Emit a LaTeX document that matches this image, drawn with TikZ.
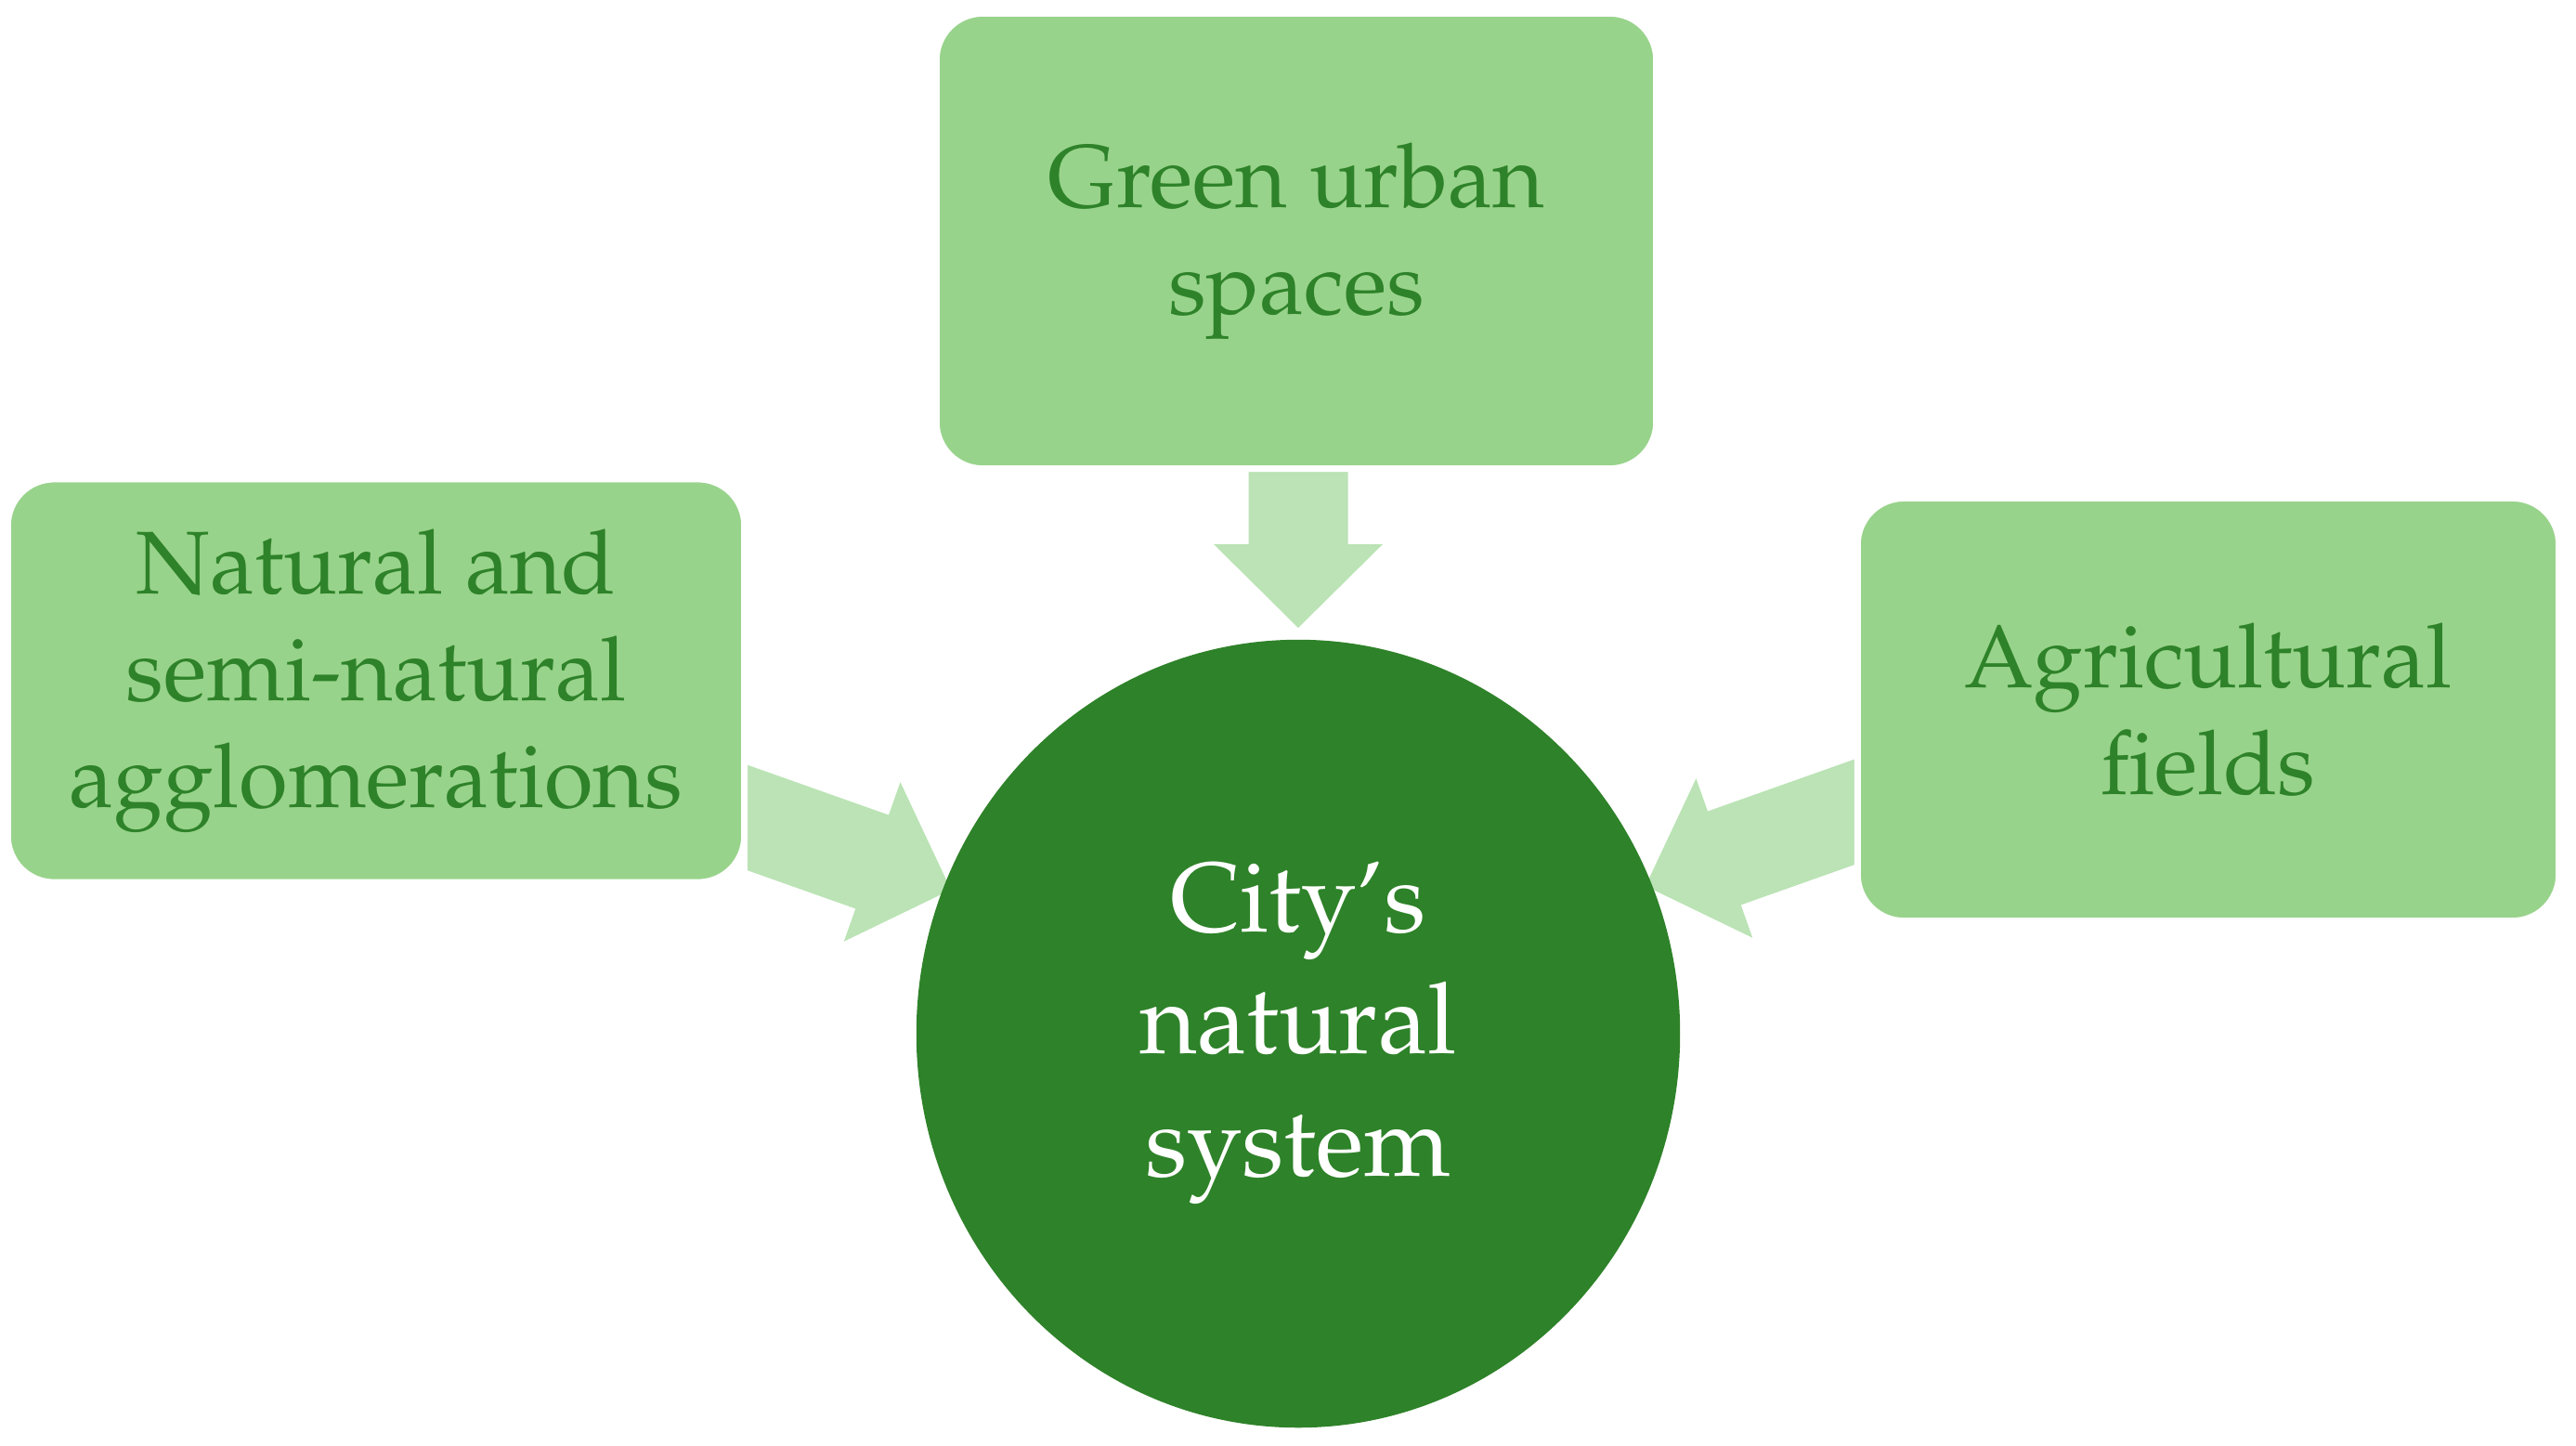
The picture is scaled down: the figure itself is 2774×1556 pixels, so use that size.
\documentclass[tikz,border=0pt]{standalone}
\usepackage[T1]{fontenc}
\usepackage{mathpazo}
\usepackage{xcolor}
\usepackage{tikz}
\usetikzlibrary{shapes.geometric,backgrounds}

\definecolor{boxgreen}{HTML}{98D38B}
\definecolor{arrowgreen}{HTML}{BBE3B5}
\definecolor{citygreen}{HTML}{2E8229}

\tikzset{
  boxnode/.style={draw=white, line width=0.07cm, fill=boxgreen, rounded corners=0.5cm,
    text=citygreen, align=center, inner sep=0pt,
    font=\fontsize{27.3}{32.7}\selectfont},
  citynode/.style={ellipse, fill=citygreen, text=white, align=center, inner sep=0pt,
    font=\fontsize{30.3}{37.4}\selectfont},
  flowarrow/.style={fill=arrowgreen, draw=none}
}

\begin{document}
\begin{tikzpicture}[x=0.01cm, y=-0.01cm]
                      \useasboundingbox (0,0) rectangle (2774,1556);
                      % boxes and centre
                      \node[boxnode, minimum width=7.75cm, minimum height=4.90cm] (green) at (1396,259.5) {Green urban\\spaces};
                      \node[boxnode, minimum width=7.93cm, minimum height=4.34cm] (natural) at (405,733) {Natural and\\semi-natural\\agglomerations};
                      \node[boxnode, minimum width=7.55cm, minimum height=4.55cm] (fields) at (2378,764) {Agricultural\\fields};
                      \node[citynode, minimum width=8.22cm, minimum height=8.48cm] (city) at (1398,1113) {City's\\natural\\system};
                      % arrow tips
                      \coordinate (tipgreen) at (1398,676);
                      \coordinate (tipnatural) at (1024,958);
                      \coordinate (tipfields) at (1772,954);
                      \begin{scope}[on background layer]
                        \begin{scope}[shift={(tipgreen)}, rotate=-90]
                          \fill[flowarrow] (0,0) -- (-90,91) -- (-90,53.5) -- (-260,53.5) -- (-260,-53.5) -- (-90,-53.5) -- (-90,-91) -- cycle;
                        \end{scope}
                        \begin{scope}
                          \clip (natural.east |- 0,0) rectangle (city.south);
                          \begin{scope}[shift={(tipnatural)}, rotate=-19.5]
                            \fill[flowarrow] (0,0) -- (-90,91) -- (-90,53.5) -- (-260,53.5) -- (-260,-53.5) -- (-90,-53.5) -- (-90,-91) -- cycle;
                          \end{scope}
                        \end{scope}
                        \begin{scope}
                          \clip (fields.west |- 0,0) rectangle (city.south);
                          \begin{scope}[shift={(tipfields)}, rotate=199.5]
                            \fill[flowarrow] (0,0) -- (-90,91) -- (-90,53.5) -- (-260,53.5) -- (-260,-53.5) -- (-90,-53.5) -- (-90,-91) -- cycle;
                          \end{scope}
                        \end{scope}
                      \end{scope}
                    \end{tikzpicture}
\end{document}
